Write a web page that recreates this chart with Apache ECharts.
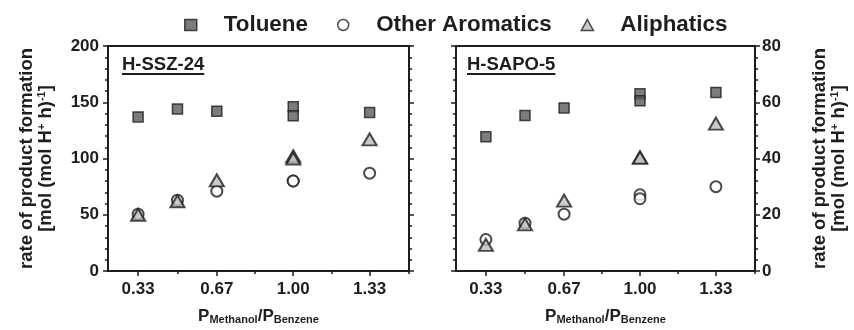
<!DOCTYPE html>
<html>
<head>
<meta charset="utf-8">
<script src="https://cdn.jsdelivr.net/npm/echarts@6/dist/echarts.min.js"></script>
<style>
  html, body { margin: 0; padding: 0; background: #ffffff; }
  #chart { width: 854px; height: 330px; }
</style>
</head>
<body>
<div id="chart"></div>
<script>
// Methanol/benzene partial pressure ratios (1.00 was measured twice)
const ratios = [0.33, 0.5, 0.67, 1.00, 1.00, 1.33];

// H-SSZ-24, rate of product formation
const ssz24Toluene = [137, 144, 142, 146, 138, 141];
const ssz24OtherAromatics = [50.5, 63, 71, 80, 80, 87];
const ssz24Aliphatics = [50, 62, 80.5, 102, 100, 117];

// H-SAPO-5, rate of product formation
const sapo5Toluene = [47.7, 55.3, 58, 63, 60.5, 63.5];
const sapo5OtherAromatics = [11.2, 17, 20.2, 27.1, 25.7, 30];
const sapo5Aliphatics = [9.3, 16.6, 25, 40.3, 40.3, 52.4];

// x axis ticks
const xMajorTicks = [0.33, 0.67, 1.00, 1.33];
const xMinorTicks = [0.5, 0.835, 1.165, 1.5];

const panelNames = ['H-SSZ-24', 'H-SAPO-5'];
const legendNames = ['Toluene', 'Other Aromatics', 'Aliphatics'];

const INK = '#1e1e1e';
const FONT = '"Liberation Sans", Arial, Helvetica, sans-serif';

const grids = [
  { left: 108, top: 46, width: 301, height: 227 },
  { left: 456, top: 46, width: 299, height: 227 }
];

const markStyles = {
  'Toluene': { symbol: 'rect', symbolSize: 10,
    itemStyle: { color: '#5b5b5b', borderColor: INK, borderWidth: 1.5 } },
  'Other Aromatics': { symbol: 'circle', symbolSize: 11,
    itemStyle: { color: '#ffffff', borderColor: INK, borderWidth: 2 } },
  'Aliphatics': { symbol: 'triangle', symbolSize: [14, 12],
    itemStyle: { color: '#bdbdbd', borderColor: INK, borderWidth: 2 } }
};

const axisLine = { show: true, lineStyle: { color: INK, width: 2 } };
const tickLine = { color: INK, width: 1.5 };
const labelText = { fontSize: 17, fontWeight: 'bold', color: INK, fontFamily: FONT };

const xName = '{p|P}{s|Methanol}{p|/P}{s|Benzene}';
const xNameStyle = {
  color: INK,
  rich: {
    p: { fontSize: 17, fontWeight: 'bold', fontFamily: FONT, color: INK, lineHeight: 18 },
    s: { fontSize: 11, fontWeight: 'bold', fontFamily: FONT, color: INK, lineHeight: 10, verticalAlign: 'bottom' }
  }
};

const yName = '{t|rate of product formation}\n{t|[mol (mol H}{u|+}{t| h)}{u|-1}{t|]}';
const yNameStyle = {
  color: INK,
  rich: {
    t: { fontSize: 18.5, fontWeight: 'bold', fontFamily: FONT, color: INK, lineHeight: 19 },
    u: { fontSize: 11, fontWeight: 'bold', fontFamily: FONT, color: INK, lineHeight: 9, verticalAlign: 'top' }
  }
};

function xAxesFor(gi) {
  const base = { gridIndex: gi, type: 'value', min: 0.2, max: 1.5, splitLine: { show: false } };
  return [
    Object.assign({}, base, {
      position: 'bottom',
      axisLine: axisLine,
      axisTick: { show: true, customValues: xMajorTicks, length: 5, lineStyle: tickLine },
      axisLabel: Object.assign({ customValues: xMajorTicks, margin: 10,
        formatter: v => v.toFixed(2) }, labelText),
      name: xName, nameLocation: 'middle', nameGap: 36, nameTextStyle: xNameStyle
    }),
    Object.assign({}, base, {
      position: 'bottom',
      axisLine: { show: false },
      axisTick: { show: true, customValues: xMinorTicks, length: 3, lineStyle: tickLine },
      axisLabel: { show: false }
    }),
    Object.assign({}, base, {
      position: 'top',
      axisLine: axisLine,
      axisTick: { show: false },
      axisLabel: { show: false }
    })
  ];
}

function yAxisFor(gi, position, max, interval, labelled, nameGap) {
  const axis = {
    gridIndex: gi, type: 'value', position: position,
    min: 0, max: max, interval: interval,
    splitLine: { show: false },
    axisLine: axisLine,
    axisTick: { show: true, length: 5, lineStyle: tickLine },
    minorTick: { show: true, splitNumber: 5, length: 3, lineStyle: tickLine },
    axisLabel: labelled
      ? Object.assign({ margin: position === 'left' ? 9 : 7 }, labelText)
      : { show: false }
  };
  if (labelled) {
    Object.assign(axis, {
      name: yName, nameLocation: 'middle', nameRotate: 90,
      nameGap: nameGap, nameTextStyle: yNameStyle
    });
  }
  return axis;
}

function points(ys) {
  return ratios.map((x, i) => [x, ys[i]]);
}

function scatter(name, ys, axisIdx) {
  const s = markStyles[name];
  return {
    type: 'scatter', name: name,
    xAxisIndex: axisIdx.x, yAxisIndex: axisIdx.y,
    symbol: s.symbol, symbolSize: s.symbolSize,
    itemStyle: s.itemStyle,
    emphasis: { disabled: true },
    data: points(ys)
  };
}

const left = { x: 0, y: 0 };
const right = { x: 3, y: 3 };

// underlined panel captions
const measure = document.createElement('canvas').getContext('2d');
const captionFont = 'bold 18.5px ' + FONT;
measure.font = captionFont;
const captions = [];
panelNames.forEach((txt, i) => {
  const x = grids[i].left + (i === 0 ? 14 : 11);
  const w = measure.measureText(txt).width;
  captions.push({
    type: 'text', x: x, y: 55,
    style: { text: txt, font: captionFont, fill: INK, textVerticalAlign: 'top' }
  });
  captions.push({
    type: 'rect', shape: { x: x, y: 73, width: w, height: 2 },
    style: { fill: INK }
  });
});

const chart = echarts.init(document.getElementById('chart'), null, { renderer: 'canvas' });
chart.setOption({
  animation: false,
  backgroundColor: '#ffffff',
  textStyle: { fontFamily: FONT },
  grid: grids,
  legend: {
    left: 184, top: 14, padding: 0,
    itemWidth: 12, itemHeight: 11, itemGap: 29,
    selectedMode: false,
    textStyle: { fontSize: 22.4, fontWeight: 'bold', fontFamily: FONT, color: INK, padding: [0, 0, 0, 22] },
    data: legendNames.map(n => ({
      name: n,
      icon: markStyles[n].symbol,
      itemStyle: Object.assign({}, markStyles[n].itemStyle, { borderWidth: 1.5 })
    }))
  },
  xAxis: xAxesFor(0).concat(xAxesFor(1)),
  yAxis: [
    yAxisFor(0, 'left', 200, 50, true, 53),
    yAxisFor(0, 'right', 200, 50, false),
    yAxisFor(1, 'left', 80, 20, false),
    yAxisFor(1, 'right', 80, 20, true, 55)
  ],
  graphic: captions,
  series: [
    scatter('Toluene', ssz24Toluene, left),
    scatter('Other Aromatics', ssz24OtherAromatics, left),
    scatter('Aliphatics', ssz24Aliphatics, left),
    scatter('Toluene', sapo5Toluene, right),
    scatter('Other Aromatics', sapo5OtherAromatics, right),
    scatter('Aliphatics', sapo5Aliphatics, right)
  ]
});
</script>
</body>
</html>
